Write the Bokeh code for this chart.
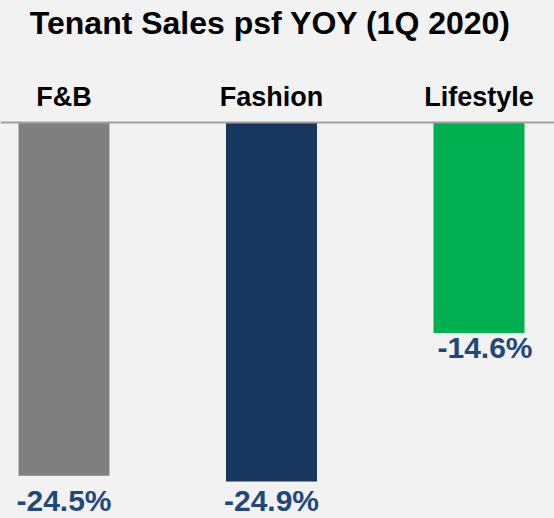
from bokeh.plotting import figure
from bokeh.models import Range1d, Span, Label, ColumnDataSource
from bokeh.core.properties import value
from bokeh.embed import file_html
from bokeh.resources import INLINE

# ---- data ----
categories = ["F&B", "Fashion", "Lifestyle"]
yoy_change = [-24.5, -24.9, -14.6]
bar_colors = ["#7f7f7f", "#17375e", "#00b050"]
title_text = "Tenant Sales psf YOY (1Q 2020)"

# ---- layout constants ----
W, H = 554, 518
FONT_NAME = "Liberation Sans"
FONT = value(FONT_NAME)
label_dy = [25, 19, 14]      # pixel nudges of the value labels below bar ends
label_dx = [0, 0, 6]
CAT_Y = 1.80

idx = list(range(len(categories)))
src = ColumnDataSource(dict(
    x=idx, cat=categories, v=yoy_change, color=bar_colors,
    lab=[f"{v:.1f}%" for v in yoy_change],
    dy=label_dy, dx=label_dx, caty=[CAT_Y] * len(categories),
))

p = figure(width=W, height=H, output_backend="svg", toolbar_location=None,
           x_axis_location=None, y_axis_location=None, title=None,
           x_range=Range1d(-0.306, 2.3639), y_range=Range1d(-27.461, 8.461),
           min_border=0)
p.grid.visible = False
p.outline_line_color = None
p.background_fill_color = "#f2f2f2"
p.border_fill_color = "#f2f2f2"

p.vbar(x="x", top=0, bottom="v", width=0.4386, color="color", line_color=None, source=src)

p.add_layout(Span(location=0, dimension="width", line_color="#a0a0a0", line_width=2))

p.text(x="x", y="caty", text="cat", source=src, text_font=FONT, text_font_style="bold",
       text_font_size="27px", text_color="black", text_align="center",
       text_baseline="alphabetic")

p.text(x="x", y="v", text="lab", source=src, text_font=FONT, text_font_style="bold",
       text_font_size="30px", text_color="#1f497d", text_align="center",
       text_baseline="alphabetic", y_offset="dy", x_offset="dx")

p.add_layout(Label(x=270, y=496, x_units="screen", y_units="screen", text=title_text,
                   text_font=FONT_NAME, text_font_style="bold", text_font_size="32px",
                   text_color="black", text_align="center", text_baseline="alphabetic"))

html = file_html(p, INLINE)
html = html.replace("<head>", "<head><style>body{background:#f2f2f2;}</style>", 1)
open("out.html", "w").write(html)
